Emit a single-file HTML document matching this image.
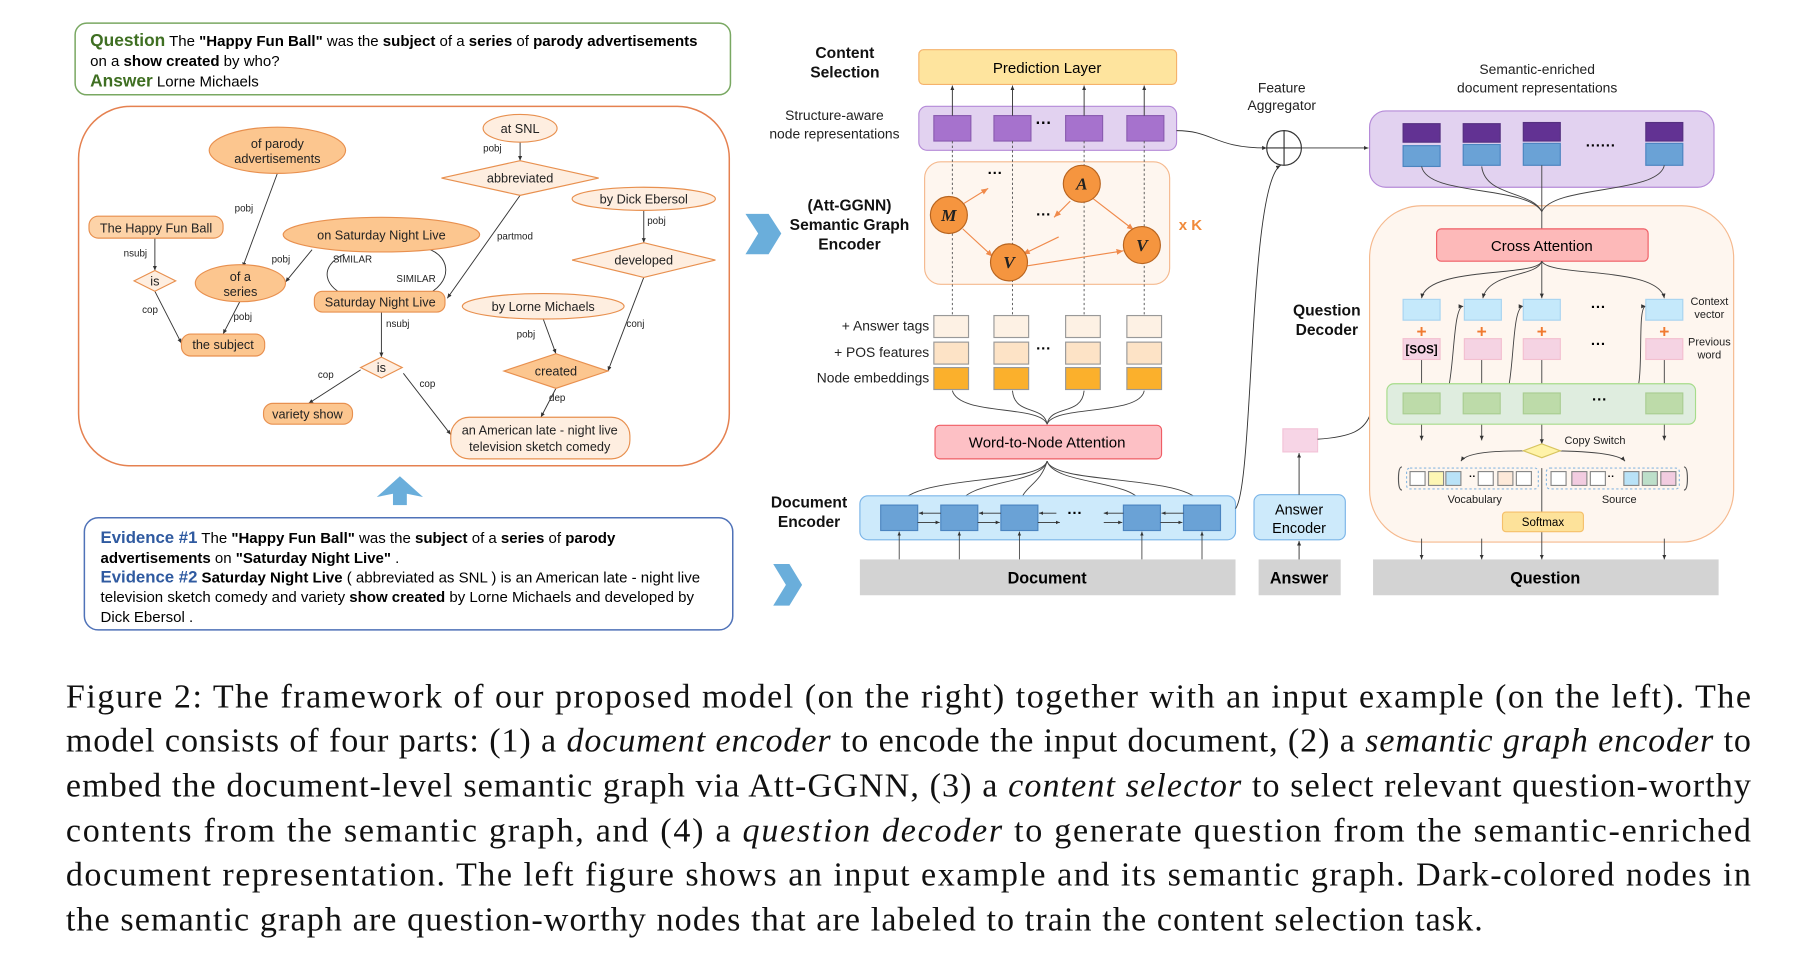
<!DOCTYPE html>
<html><head><meta charset="utf-8"><style>
html,body{margin:0;padding:0;background:#fff}
svg{display:block}
.s{font-family:"Liberation Sans",sans-serif}
.b{font-weight:bold}
.cap{font-family:"Liberation Serif",serif;font-size:29.5px;fill:#111}
</style></head><body>
<svg width="1803" height="968" viewBox="0 0 1560 837.5" xmlns="http://www.w3.org/2000/svg" class="s">
<defs>
<marker id="a" markerWidth="6" markerHeight="6" refX="5" refY="3" orient="auto"><path d="M0,0.8 L5,3 L0,5.2z" fill="#333"/></marker>
<marker id="o" markerWidth="7" markerHeight="7" refX="6" refY="3.5" orient="auto"><path d="M0,1 L6,3.5 L0,6z" fill="#f08a4b"/></marker>
</defs>

<!-- LEFT: question box -->
<rect x="65" y="20" width="567" height="62" rx="10" fill="#fff" stroke="#79a862" stroke-width="1.3"/>
<text x="78" y="40" font-size="13"><tspan class="b" fill="#3f6f22" font-size="15">Question</tspan> The <tspan class="b">"Happy Fun Ball"</tspan> was the <tspan class="b">subject</tspan> of a <tspan class="b">series</tspan> of <tspan class="b">parody advertisements</tspan></text>
<text x="78" y="57" font-size="13">on a <tspan class="b">show created</tspan> by who?</text>
<text x="78" y="75" font-size="13"><tspan class="b" fill="#3f6f22" font-size="15">Answer</tspan> Lorne Michaels</text>

<!-- graph box -->
<rect x="68" y="92" width="563" height="311" rx="45" fill="#fff" stroke="#e58150" stroke-width="1.3"/>
<g stroke="#333" stroke-width="0.8" fill="none" marker-end="url(#a)">
<line x1="240" y1="150" x2="210" y2="231"/>
<line x1="134" y1="206" x2="134" y2="234"/>
<line x1="134" y1="252" x2="157" y2="297"/>
<line x1="208" y1="260" x2="193" y2="289"/>
<line x1="270" y1="216" x2="247" y2="244"/>
<path d="M298,220 C275,230 280,250 303,257"/>
<path d="M365,257 C395,245 390,218 365,214"/>
<line x1="450" y1="123" x2="450" y2="139"/>
<line x1="450" y1="169" x2="387" y2="258"/>
<line x1="557" y1="182" x2="557" y2="210"/>
<line x1="557" y1="240" x2="526" y2="321"/>
<line x1="470" y1="276" x2="481" y2="306"/>
<line x1="330" y1="270" x2="330" y2="309"/>
<line x1="312" y1="320" x2="267" y2="349"/>
<line x1="349" y1="323" x2="390" y2="376"/>
<line x1="481" y1="336" x2="468" y2="361"/>
</g>
<g font-size="8.5" fill="#222">
<text x="203" y="183">pobj</text><text x="107" y="222">nsubj</text><text x="123" y="271">cop</text>
<text x="202" y="277">pobj</text><text x="235" y="227">pobj</text><text x="288" y="227">SIMILAR</text><text x="343" y="244">SIMILAR</text>
<text x="418" y="131">pobj</text><text x="430" y="207">partmod</text><text x="560" y="194">pobj</text><text x="542" y="283">conj</text>
<text x="447" y="292">pobj</text><text x="334" y="283">nsubj</text><text x="275" y="327">cop</text><text x="363" y="335">cop</text><text x="475" y="347">dep</text>
</g>
<g stroke="#e8904f" stroke-width="1" font-size="11" text-anchor="middle" fill="#222">
<ellipse cx="240" cy="130" rx="59" ry="20" fill="#fcc68f"/>
<rect x="77" y="187" width="116" height="19" rx="8" fill="#fdd3a8"/>
<ellipse cx="450" cy="111" rx="32" ry="12" fill="#feeee0"/>
<polygon points="382,154 450,139 518,154 450,169" fill="#feeee0"/>
<ellipse cx="557" cy="172" rx="62" ry="10" fill="#feeee0"/>
<polygon points="495,225 557,210 619,225 557,240" fill="#feeee0"/>
<ellipse cx="330" cy="203" rx="85" ry="15" fill="#fcc68f"/>
<ellipse cx="208" cy="245" rx="39" ry="16" fill="#fcc68f"/>
<polygon points="116,243 134,234 152,243 134,252" fill="#feeee0"/>
<rect x="272" y="252" width="113" height="18" rx="7" fill="#fcc68f"/>
<ellipse cx="470" cy="265" rx="70" ry="11" fill="#feeee0"/>
<rect x="157" y="289" width="72" height="19" rx="8" fill="#fcc68f"/>
<polygon points="312,318 330,309 348,318 330,327" fill="#feeee0"/>
<polygon points="436,321 481,306 526,321 481,336" fill="#fcc68f"/>
<rect x="228" y="349" width="77" height="18" rx="8" fill="#fcc68f"/>
<rect x="390" y="361" width="155" height="36" rx="16" fill="#feeee0"/>
</g>
<g font-size="11" text-anchor="middle" fill="#222">
<text x="240" y="128">of parody</text><text x="240" y="141">advertisements</text>
<text x="135" y="201">The Happy Fun Ball</text>
<text x="450" y="115">at SNL</text><text x="450" y="158">abbreviated</text>
<text x="557" y="176">by Dick Ebersol</text><text x="557" y="229">developed</text>
<text x="330" y="207">on Saturday Night Live</text>
<text x="208" y="243">of a</text><text x="208" y="256">series</text>
<text x="134" y="247">is</text>
<text x="329" y="265">Saturday Night Live</text>
<text x="470" y="269">by Lorne Michaels</text>
<text x="193" y="302">the subject</text>
<text x="330" y="322">is</text><text x="481" y="325">created</text>
<text x="266" y="362">variety show</text>
<text x="467" y="376">an American late - night live</text><text x="467" y="390">television sketch comedy</text>
</g>

<!-- blue up arrow -->
<polygon points="346,412 366,430 346,426 326,430" fill="#6aaedb"/>
<rect x="340" y="424" width="12" height="13" fill="#6aaedb"/>

<!-- evidence box -->
<rect x="73" y="448" width="561" height="97" rx="12" fill="#fff" stroke="#4f72b8" stroke-width="1.3"/>
<g font-size="13">
<text x="87" y="470"><tspan class="b" fill="#2f5aa0" font-size="14.5">Evidence #1</tspan> The <tspan class="b">"Happy Fun Ball"</tspan> was the <tspan class="b">subject</tspan> of a <tspan class="b">series</tspan> of <tspan class="b">parody</tspan></text>
<text x="87" y="487"><tspan class="b">advertisements</tspan> on <tspan class="b">"Saturday Night Live"</tspan> .</text>
<text x="87" y="504"><tspan class="b" fill="#2f5aa0" font-size="14.5">Evidence #2</tspan> <tspan class="b">Saturday Night Live</tspan> ( abbreviated as SNL ) is an American late - night live</text>
<text x="87" y="521">television sketch comedy and variety <tspan class="b">show created</tspan> by Lorne Michaels and developed by</text>
<text x="87" y="538">Dick Ebersol .</text>
</g>

<!-- chevrons -->
<polygon points="645,185 665,185 676,202 665,220 645,220 656,202" fill="#6aaedb"/>
<polygon points="669,488 683,488 694,506 683,524 669,524 680,506" fill="#6aaedb"/>

<!-- MIDDLE -->
<g class="b" font-size="13.5" text-anchor="middle" fill="#111">
<text x="731" y="50">Content</text><text x="731" y="67">Selection</text>
<text x="735" y="182">(Att-GGNN)</text><text x="735" y="199">Semantic Graph</text><text x="735" y="216">Encoder</text>
<text x="700" y="439">Document</text><text x="700" y="456">Encoder</text>
<text x="1148" y="273">Question</text><text x="1148" y="290">Decoder</text>
</g>
<g font-size="12" text-anchor="middle" fill="#222">
<text x="722" y="104">Structure-aware</text><text x="722" y="120">node representations</text>
<text x="1109" y="80">Feature</text><text x="1109" y="95">Aggregator</text>
<text x="1330" y="64">Semantic-enriched</text><text x="1330" y="80">document representations</text>
</g>
<rect x="795" y="43" width="223" height="30" rx="4" fill="#fee49e" stroke="#f5b26b"/>
<text x="906" y="63" font-size="13" text-anchor="middle">Prediction Layer</text>
<rect x="795" y="92" width="223" height="38" rx="7" fill="#e2d2f0" stroke="#b58ad8"/>
<g fill="#a672cd" stroke="#8a5cb0"><rect x="808" y="100" width="32" height="22"/><rect x="860" y="100" width="32" height="22"/><rect x="922" y="100" width="32" height="22"/><rect x="975" y="100" width="32" height="22"/></g>
<text x="903" y="111" font-size="14" class="b" text-anchor="middle">···</text>
<g stroke="#333" stroke-width="0.8" marker-end="url(#a)"><line x1="824" y1="100" x2="824" y2="74"/><line x1="876" y1="100" x2="876" y2="74"/><line x1="938" y1="100" x2="938" y2="74"/><line x1="990" y1="100" x2="990" y2="74"/></g>

<rect x="800" y="140" width="212" height="106" rx="14" fill="#fef6ef" stroke="#f5b98e"/>
<g stroke="#555" stroke-width="0.8" stroke-dasharray="2,2"><line x1="824" y1="272" x2="824" y2="122"/><line x1="876" y1="272" x2="876" y2="122"/><line x1="938" y1="272" x2="938" y2="122"/><line x1="990" y1="272" x2="990" y2="122"/></g>
<g stroke="#f08a4b" stroke-width="1" marker-end="url(#o)">
<line x1="834" y1="176" x2="855" y2="163"/><line x1="833" y1="198" x2="859" y2="222"/>
<line x1="926" y1="174" x2="912" y2="188"/><line x1="916" y1="205" x2="885" y2="220"/>
<line x1="889" y1="230" x2="972" y2="217"/><line x1="946" y1="172" x2="981" y2="199"/>
</g>
<text x="861" y="154" font-size="13" class="b" text-anchor="middle">···</text>
<text x="903" y="190" font-size="13" class="b" text-anchor="middle">···</text>
<g fill="#f5953f" stroke="#b8641f"><circle cx="821" cy="186" r="16"/><circle cx="936" cy="159" r="16"/><circle cx="873" cy="227" r="16"/><circle cx="988" cy="212" r="16"/></g>
<g font-family="Liberation Serif,serif" font-style="italic" font-weight="bold" font-size="15" text-anchor="middle" fill="#222">
<text x="821" y="191">M</text><text x="936" y="164">A</text><text x="873" y="232">V</text><text x="988" y="217">V</text></g>
<text x="1030" y="199" font-size="13" class="b" fill="#f08a3b" text-anchor="middle">x K</text>

<g stroke="#999"><g fill="#fdf1e4"><rect x="808" y="273" width="30" height="19"/><rect x="860" y="273" width="30" height="19"/><rect x="922" y="273" width="30" height="19"/><rect x="975" y="273" width="30" height="19"/></g>
<g fill="#fde3c6"><rect x="808" y="296" width="30" height="19"/><rect x="860" y="296" width="30" height="19"/><rect x="922" y="296" width="30" height="19"/><rect x="975" y="296" width="30" height="19"/></g>
<g fill="#fbb02c"><rect x="808" y="318" width="30" height="19"/><rect x="860" y="318" width="30" height="19"/><rect x="922" y="318" width="30" height="19"/><rect x="975" y="318" width="30" height="19"/></g></g>
<text x="903" y="306" font-size="13" class="b" text-anchor="middle">···</text>
<g font-size="12" text-anchor="end" fill="#222"><text x="804" y="286">+ Answer tags</text><text x="804" y="309">+ POS features</text><text x="804" y="331">Node embeddings</text></g>
<g stroke="#444" stroke-width="0.8" fill="none">
<path d="M906,367 C900,350 830,360 824,338"/><path d="M906,367 C903,350 878,360 876,338"/><path d="M906,367 C909,350 936,360 938,338"/><path d="M906,367 C912,350 986,360 990,338"/>
<path d="M906,399 C900,420 790,410 778,437"/><path d="M906,399 C900,420 835,415 830,437"/><path d="M906,399 C900,420 885,420 882,437"/><path d="M906,399 C912,420 985,415 988,437"/><path d="M906,399 C912,420 1030,410 1040,437"/>
</g>
<rect x="809" y="368" width="196" height="29" rx="4" fill="#fdc0c5" stroke="#ef5d65"/>
<text x="906" y="387" font-size="13" text-anchor="middle">Word-to-Node Attention</text>

<rect x="744" y="429" width="325" height="38" rx="7" fill="#cdeafb" stroke="#7bb5e8"/>
<g fill="#6aa2d6" stroke="#4b84c0"><rect x="762" y="437" width="32" height="22"/><rect x="814" y="437" width="32" height="22"/><rect x="866" y="437" width="32" height="22"/><rect x="972" y="437" width="32" height="22"/><rect x="1024" y="437" width="32" height="22"/></g>
<g stroke="#333" stroke-width="0.7" marker-end="url(#a)">
<line x1="814" y1="444" x2="795" y2="444"/><line x1="866" y1="444" x2="847" y2="444"/><line x1="914" y1="444" x2="899" y2="444"/><line x1="1024" y1="444" x2="1005" y2="444"/><line x1="972" y1="444" x2="955" y2="444"/>
<line x1="794" y1="452" x2="813" y2="452"/><line x1="846" y1="452" x2="865" y2="452"/><line x1="898" y1="452" x2="917" y2="452"/><line x1="955" y1="452" x2="971" y2="452"/><line x1="1004" y1="452" x2="1023" y2="452"/>
<line x1="778" y1="484" x2="778" y2="460"/><line x1="830" y1="484" x2="830" y2="460"/><line x1="882" y1="484" x2="882" y2="460"/><line x1="988" y1="484" x2="988" y2="460"/><line x1="1040" y1="484" x2="1040" y2="460"/>
</g>
<text x="930" y="448" font-size="13" class="b" text-anchor="middle">···</text>
<rect x="744" y="484" width="325" height="31" fill="#d3d3d3"/>
<text x="906" y="505" font-size="14" class="b" text-anchor="middle">Document</text>

<rect x="1085" y="428" width="79" height="39" rx="6" fill="#cdeafb" stroke="#7bb5e8"/>
<text x="1124" y="445" font-size="12.5" text-anchor="middle">Answer</text><text x="1124" y="461" font-size="12.5" text-anchor="middle">Encoder</text>
<rect x="1089" y="484" width="71" height="31" fill="#d3d3d3"/>
<text x="1124" y="505" font-size="14" class="b" text-anchor="middle">Answer</text>
<rect x="1110" y="371" width="30" height="20" fill="#f7d5e6" stroke="#f3c3d8"/>
<g stroke="#333" stroke-width="0.8" fill="none" marker-end="url(#a)">
<line x1="1124" y1="428" x2="1124" y2="392"/><line x1="1124" y1="484" x2="1124" y2="468"/>
<path d="M1140,380 C1170,378 1180,372 1185,360 C1190,345 1200,350 1213,349"/>
<path d="M1018,113 C1050,113 1050,128 1096,128"/>
<path d="M1069,440 C1085,420 1080,160 1108,143"/>
<line x1="1126" y1="128" x2="1184" y2="128"/>
</g>
<circle cx="1111" cy="128" r="15" fill="#fff" stroke="#333" stroke-width="1"/>
<line x1="1096" y1="128" x2="1126" y2="128" stroke="#333"/><line x1="1111" y1="113" x2="1111" y2="143" stroke="#333"/>

<!-- RIGHT -->
<rect x="1185" y="96" width="298" height="66" rx="14" fill="#e2d2f0" stroke="#b58ad8"/>
<g fill="#623293" stroke="#553080"><rect x="1214" y="107" width="32" height="16"/><rect x="1266" y="107" width="32" height="16"/><rect x="1318" y="106" width="32" height="16"/><rect x="1424" y="106" width="32" height="16"/></g>
<g fill="#6aa2d6" stroke="#4b84c0"><rect x="1214" y="126" width="32" height="18"/><rect x="1266" y="125" width="32" height="18"/><rect x="1318" y="124" width="32" height="19"/><rect x="1424" y="124" width="32" height="19"/></g>
<text x="1385" y="130" font-size="13" class="b" text-anchor="middle">······</text>

<rect x="1185" y="178" width="315" height="291" rx="45" fill="#fef6ef" stroke="#f5b98e"/>
<g stroke="#444" stroke-width="0.8" fill="none">
<path d="M1230,144 C1235,170 1320,160 1334,183"/><path d="M1282,144 C1285,170 1325,165 1334,183"/><path d="M1334,143 L1334,198"/><path d="M1440,143 C1435,168 1345,160 1334,183"/>
</g>
<rect x="1243" y="198" width="183" height="28" rx="4" fill="#fdb9b9" stroke="#ef5d65"/>
<text x="1334" y="217" font-size="13" text-anchor="middle">Cross Attention</text>
<g stroke="#444" stroke-width="0.8" fill="none" marker-end="url(#a)">
<path d="M1334,226 C1330,240 1235,230 1230,258"/><path d="M1334,226 C1330,240 1288,235 1283,258"/><line x1="1334" y1="226" x2="1334" y2="258"/><path d="M1334,226 C1340,240 1435,230 1440,258"/>
<line x1="1230" y1="311" x2="1230" y2="340"/><line x1="1282" y1="311" x2="1282" y2="340"/><line x1="1334" y1="311" x2="1334" y2="340"/><line x1="1440" y1="311" x2="1440" y2="340"/>
<path d="M1246,350 C1260,345 1255,265 1266,265"/><path d="M1298,350 C1312,345 1306,265 1318,265"/><path d="M1412,345 C1425,340 1415,265 1424,265"/>
<line x1="1246" y1="350" x2="1265" y2="350"/><line x1="1298" y1="350" x2="1317" y2="350"/><line x1="1350" y1="350" x2="1375" y2="350"/><line x1="1400" y1="350" x2="1423" y2="350"/>
<line x1="1230" y1="358" x2="1230" y2="381"/><line x1="1282" y1="358" x2="1282" y2="381"/><line x1="1334" y1="358" x2="1334" y2="384"/><line x1="1440" y1="358" x2="1440" y2="381"/>
<path d="M1334,390 C1300,390 1270,390 1264,399"/><path d="M1334,390 C1370,390 1400,392 1406,399"/>
<line x1="1230" y1="466" x2="1230" y2="484"/><line x1="1282" y1="466" x2="1282" y2="484"/><line x1="1334" y1="405" x2="1334" y2="484"/><line x1="1440" y1="466" x2="1440" y2="484"/>
</g>
<g fill="#c5e9fb" stroke="#a8d4f0"><rect x="1214" y="259" width="32" height="18"/><rect x="1267" y="259" width="32" height="18"/><rect x="1318" y="259" width="32" height="18"/><rect x="1424" y="259" width="32" height="18"/></g>
<g fill="#f5d3e3" stroke="#f3bfd0"><rect x="1214" y="293" width="32" height="18"/><rect x="1267" y="293" width="32" height="18"/><rect x="1318" y="293" width="32" height="18"/><rect x="1424" y="293" width="32" height="18"/></g>
<g fill="#f07a30" font-size="15" class="b" text-anchor="middle"><text x="1230" y="292">+</text><text x="1282" y="292">+</text><text x="1334" y="292">+</text><text x="1440" y="292">+</text></g>
<text x="1230" y="306" font-size="10" class="b" text-anchor="middle">[SOS]</text>
<text x="1383" y="270" font-size="13" class="b" text-anchor="middle">···</text>
<text x="1383" y="302" font-size="13" class="b" text-anchor="middle">···</text>
<g font-size="9.5" text-anchor="middle" fill="#222"><text x="1479" y="264">Context</text><text x="1479" y="275">vector</text><text x="1479" y="299">Previous</text><text x="1479" y="310">word</text>
<text x="1380" y="384">Copy Switch</text><text x="1276" y="435">Vocabulary</text><text x="1401" y="435">Source</text></g>
<rect x="1200" y="332" width="267" height="35" rx="6" fill="#dfeddf" stroke="#a6dc8a"/>
<g fill="#bddba9" stroke="#a9cd92"><rect x="1214" y="340" width="32" height="18"/><rect x="1266" y="340" width="32" height="18"/><rect x="1318" y="340" width="32" height="18"/><rect x="1424" y="340" width="32" height="18"/></g>
<text x="1384" y="350" font-size="13" class="b" text-anchor="middle">···</text>
<polygon points="1318,390 1334,384 1350,390 1334,396" fill="#fff3a8" stroke="#d8c560"/>
<path d="M1213,404 q-3,0 -3,10 q0,10 3,10" fill="none" stroke="#555"/><path d="M1457,404 q3,0 3,10 q0,10 -3,10" fill="none" stroke="#555"/>
<rect x="1217" y="405" width="114" height="18" rx="3" fill="none" stroke="#8ab8e0" stroke-dasharray="2,2"/>
<rect x="1338" y="405" width="115" height="18" rx="3" fill="none" stroke="#8ab8e0" stroke-dasharray="2,2"/>
<g stroke="#888"><rect x="1220" y="408" width="13" height="12" fill="#fff"/><rect x="1236" y="408" width="13" height="12" fill="#fdf6b4"/><rect x="1251" y="408" width="13" height="12" fill="#b9e2f7"/><rect x="1279" y="408" width="13" height="12" fill="#fff"/><rect x="1296" y="408" width="13" height="12" fill="#fde9d9"/><rect x="1312" y="408" width="13" height="12" fill="#fff"/>
<rect x="1342" y="408" width="13" height="12" fill="#fff"/><rect x="1360" y="408" width="13" height="12" fill="#f2cce0"/><rect x="1376" y="408" width="13" height="12" fill="#fff"/><rect x="1405" y="408" width="13" height="12" fill="#b9e2f7"/><rect x="1421" y="408" width="13" height="12" fill="#bddfca"/><rect x="1437" y="408" width="13" height="12" fill="#f2cce0"/></g>
<text x="1271" y="415" font-size="9" class="b">··</text><text x="1391" y="415" font-size="9" class="b">··</text>
<rect x="1300" y="443" width="70" height="17" rx="3" fill="#fde29a" stroke="#f5c06b"/>
<text x="1335" y="455" font-size="10" text-anchor="middle">Softmax</text>
<rect x="1188" y="484" width="299" height="31" fill="#d3d3d3"/>
<text x="1337" y="505" font-size="14" class="b" text-anchor="middle">Question</text>

<!-- caption -->
<text class="cap" x="57" y="612" textLength="1458" lengthAdjust="spacing">Figure 2: The framework of our proposed model (on the right) together with an input example (on the left). The</text>
<text class="cap" x="57" y="650" textLength="1458" lengthAdjust="spacing">model consists of four parts: (1) a <tspan font-style="italic">document encoder</tspan> to encode the input document, (2) a <tspan font-style="italic">semantic graph encoder</tspan> to</text>
<text class="cap" x="57" y="689" textLength="1458" lengthAdjust="spacing">embed the document-level semantic graph via Att-GGNN, (3) a <tspan font-style="italic">content selector</tspan> to select relevant question-worthy</text>
<text class="cap" x="57" y="728" textLength="1458" lengthAdjust="spacing">contents from the semantic graph, and (4) a <tspan font-style="italic">question decoder</tspan> to generate question from the semantic-enriched</text>
<text class="cap" x="57" y="766" textLength="1458" lengthAdjust="spacing">document representation. The left figure shows an input example and its semantic graph. Dark-colored nodes in</text>
<text class="cap" x="57" y="805" textLength="1226" lengthAdjust="spacing">the semantic graph are question-worthy nodes that are labeled to train the content selection task.</text>
</svg>
</body></html>
